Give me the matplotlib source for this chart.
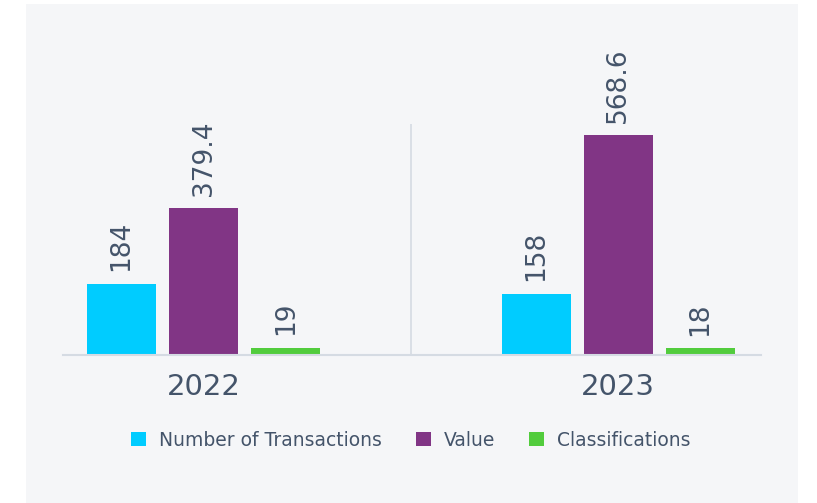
import numpy as np
import matplotlib
matplotlib.use("Agg")
import matplotlib.pyplot as plt
from matplotlib.patches import Rectangle, Patch

# data
years = ["2022", "2023"]
series_names = ["Number of Transactions", "Value", "Classifications"]
transactions = [184, 158]
value = [379.4, 568.6]
classifications = [19, 18]
label_text = [["184", "158"], ["379.4", "568.6"], ["19", "18"]]

colors = ["#00ccff", "#813585", "#52cc3d"]
text_col = "#44546a"
line_col = "#d5dbe3"

W, H = 817, 503
fig = plt.figure(figsize=(W / 100, H / 100), dpi=100, facecolor="white")

# light grey panel behind everything
fig.patches.append(Rectangle((26 / W, 0), (798 - 26) / W, 1 - 4 / H,
                             transform=fig.transFigure, facecolor="#f5f6f8",
                             edgecolor="none", zorder=-10))

ax = fig.add_axes([63 / W, 1 - 355 / H, (761 - 63) / W, (355 - 124) / H])
ax.set_facecolor("none")
ax.set_zorder(1)

x = np.arange(len(years))
offset = 0.198
width = 0.166
all_series = [transactions, value, classifications]
for i, (vals, col) in enumerate(zip(all_series, colors)):
    pos = x + (i - 1) * offset
    ax.bar(pos, vals, width=width, color=col, zorder=2)
    for px, v, t in zip(pos, vals, label_text[i]):
        ax.annotate(t, (px, v), xytext=(0, 9), textcoords="offset points",
                    rotation=90, ha="center", va="bottom", fontsize=19,
                    color=text_col, annotation_clip=False)

ax.axvline(0.5, color=line_col, lw=1.2, zorder=1)
ax.set_xlim(-0.339, 1.344)
ax.set_ylim(0, 598)

for s in ["top", "right", "left"]:
    ax.spines[s].set_visible(False)
ax.spines["bottom"].set_color(line_col)
ax.spines["bottom"].set_linewidth(1.5)
ax.set_yticks([])
ax.set_xticks(x)
ax.set_xticklabels(years, fontsize=21, color=text_col)
ax.tick_params(axis="x", length=0, pad=13)

handles = [Patch(facecolor=c, edgecolor="none") for c in colors]
fig.legend(handles, series_names, loc="center", bbox_to_anchor=(411 / W, 1 - 440 / H),
           ncol=3, frameon=False, fontsize=13.5, labelcolor=text_col,
           handlelength=0.8, handleheight=0.8, handletextpad=0.7,
           columnspacing=1.8)

fig.savefig("out.png", dpi=100, facecolor="white")
